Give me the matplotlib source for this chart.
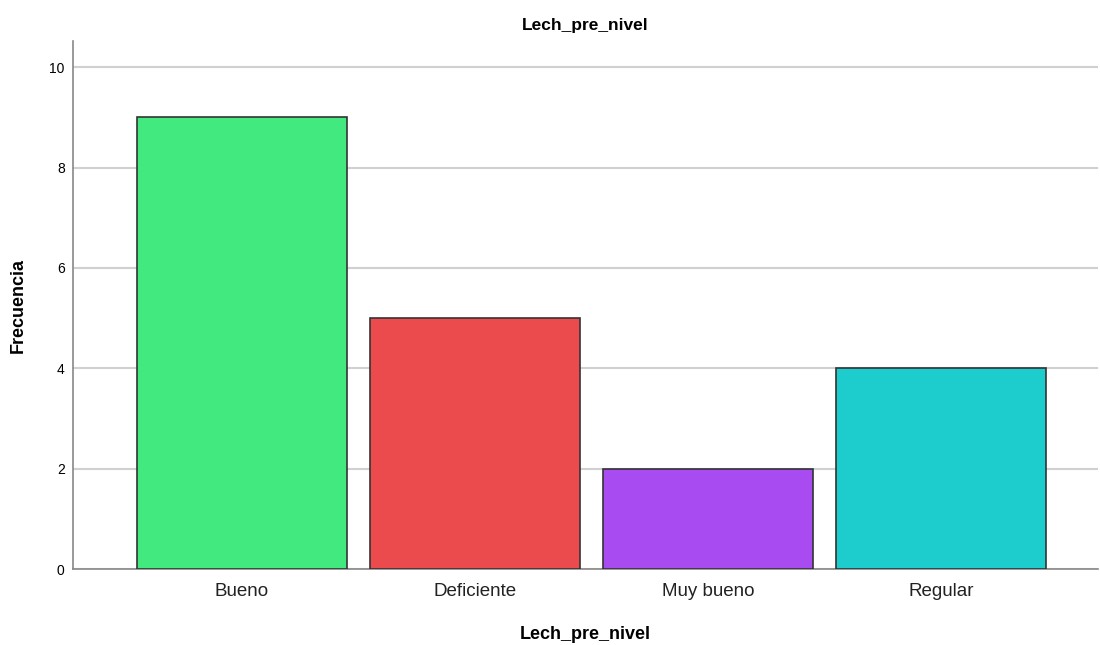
import numpy as np
import matplotlib.pyplot as plt

plt.rcParams['font.family'] = ['Liberation Sans', 'DejaVu Sans']

# data
categorias = ['Bueno', 'Deficiente', 'Muy bueno', 'Regular']
frecuencia = [9, 5, 2, 4]
colores = ['#42E97F', '#EB4B4C', '#A84BF0', '#1DCDCD']

fig = plt.figure(figsize=(11, 6.45), dpi=100)
ax = fig.add_axes([0.0664, 0.1178, 0.9316, 0.8186])

x = np.arange(len(categorias))
ax.bar(x, frecuencia, width=0.9, color=colores, edgecolor='#333333', linewidth=1.2, zorder=3)

ax.set_xlim(-0.725, 3.674)
ax.set_ylim(0, 10.52)
ax.set_yticks([0, 2, 4, 6, 8, 10])
ax.set_xticks(x)
ax.set_xticklabels(categorias, fontsize=13.5, color='#222222')
ax.tick_params(axis='y', length=0, labelsize=10, pad=6)
ax.tick_params(axis='x', length=0, pad=10)

ax.grid(axis='y', color='#D0D0D0', linewidth=1.5, zorder=0)
for s in ['top', 'right']:
    ax.spines[s].set_visible(False)
for s in ['left', 'bottom']:
    ax.spines[s].set_color('#888888')
    ax.spines[s].set_linewidth(1.2)

ax.set_title('Lech_pre_nivel', fontsize=12.5, fontweight='bold', pad=8)
ax.set_xlabel('Lech_pre_nivel', fontsize=13, fontweight='bold', labelpad=19)
ax.set_ylabel('Frecuencia', fontsize=13, fontweight='bold', labelpad=16)

plt.savefig('out.png')
